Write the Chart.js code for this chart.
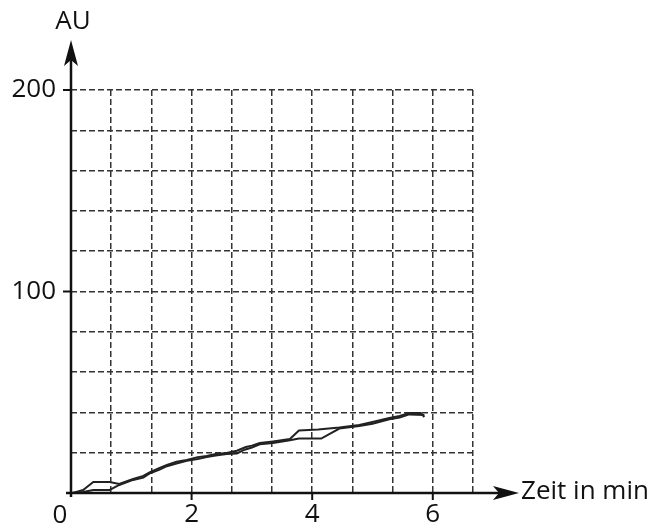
<!DOCTYPE html>
<html>
<head>
<meta charset="utf-8">
<script src="https://cdn.jsdelivr.net/npm/chart.js@4/dist/chart.umd.min.js"></script>
<style>
  html, body { margin: 0; padding: 0; background: #fff; }
  #wrap { width: 655px; height: 526px; position: relative; }
</style>
</head>
<body>
<div id="wrap"><canvas id="chart"></canvas></div>
<script>
// Data (two overlapping traces)
const timeA = [0.03, 0.2, 0.37, 0.64, 0.8, 1.03, 1.2, 1.31, 1.47, 1.59, 1.75, 1.92, 2.1, 2.25, 2.4, 2.58, 2.75, 2.9, 3.0, 3.13, 3.35, 3.63, 3.78, 4.1, 4.45, 4.78, 5.0, 5.28, 5.45, 5.61, 5.8, 5.86];
const auA   = [0, 1.5, 5.5, 5.5, 4.5, 7, 8.5, 10.4, 12.5, 13.9, 15.5, 16.4, 17.8, 18.4, 19.3, 19.9, 21, 22.8, 23.5, 24.8, 25.6, 26.8, 31, 31.5, 32.5, 33.7, 35.2, 37.2, 38.2, 39.7, 39.7, 37.7];
const timeB = [0, 0.2, 0.37, 0.64, 0.8, 1.03, 1.2, 1.31, 1.47, 1.59, 1.75, 1.92, 2.1, 2.25, 2.4, 2.58, 2.75, 2.88, 3.0, 3.13, 3.35, 3.63, 3.78, 4.15, 4.45, 4.78, 5.0, 5.28, 5.45, 5.61, 5.86];
const auB   = [0, 0.5, 1.5, 1.5, 4, 6.5, 7.6, 9.8, 11.6, 13.3, 14.6, 16, 16.9, 17.8, 18.6, 19.4, 19.6, 21.5, 22.6, 24.2, 24.8, 26.2, 27, 27, 32, 33.2, 34.4, 36.6, 37.4, 39, 38.7];

const xTickLabels = [2, 4, 6];
const yTickLabels = [100, 200];
const xGridStep = 2 / 3;
const xMax = 20 / 3;
const yMax = 200;
const yGridStep = 20;

const FONT = '"Open Sans", "Noto Sans", sans-serif';

function toPoints(xs, ys) {
    return xs.map((x, i) => ({ x: x, y: ys[i] }));
}

// axes with arrows, small tick marks and the texts around them
const axesPlugin = {
    id: 'axesPlugin',
    afterDraw(chart) {
        const ctx = chart.ctx;
        const x = chart.scales.x;
        const y = chart.scales.y;
        const x0 = x.getPixelForValue(0);
        const y0 = y.getPixelForValue(0);
        ctx.save();
        ctx.strokeStyle = '#111';
        ctx.fillStyle = '#111';
        ctx.lineWidth = 2.5;

        // y axis
        ctx.beginPath();
        ctx.moveTo(x0, y0 + 4);
        ctx.lineTo(x0, 58);
        ctx.stroke();
        ctx.beginPath();
        ctx.moveTo(x0, 40);
        ctx.lineTo(x0 - 7, 66);
        ctx.lineTo(x0, 60);
        ctx.lineTo(x0 + 7, 66);
        ctx.closePath();
        ctx.fill();

        // x axis
        ctx.beginPath();
        ctx.moveTo(x0 - 5, y0);
        ctx.lineTo(505, y0);
        ctx.stroke();
        ctx.beginPath();
        ctx.moveTo(519, y0);
        ctx.lineTo(493, y0 - 7);
        ctx.lineTo(499, y0);
        ctx.lineTo(493, y0 + 7);
        ctx.closePath();
        ctx.fill();

        // tick marks
        ctx.lineWidth = 2;
        yTickLabels.forEach(v => {
            const py = y.getPixelForValue(v);
            ctx.beginPath();
            ctx.moveTo(x0 - 8, py);
            ctx.lineTo(x0, py);
            ctx.stroke();
        });
        xTickLabels.forEach(v => {
            const px = x.getPixelForValue(v);
            ctx.beginPath();
            ctx.moveTo(px, y0);
            ctx.lineTo(px, y0 + 7);
            ctx.stroke();
        });

        // texts
        ctx.font = '26px ' + FONT;
        ctx.textBaseline = 'middle';
        ctx.textAlign = 'center';
        ctx.fillText('AU', x0 + 2, 22);
        ctx.fillText('0', x0 - 11, 516);
        ctx.textAlign = 'left';
        ctx.fillText('Zeit in min', 521, y0 - 1);
        ctx.restore();
    }
};

const chartArea = { left: 71, top: 90, right: 473, bottom: 493 };

new Chart(document.getElementById('chart'), {
    type: 'scatter',
    data: {
        datasets: [{
            data: toPoints(timeA, auA),
            showLine: true,
            borderColor: '#222',
            borderWidth: 2,
            pointRadius: 0,
            tension: 0
        }, {
            data: toPoints(timeB, auB),
            showLine: true,
            borderColor: '#222',
            borderWidth: 2,
            pointRadius: 0,
            tension: 0
        }]
    },
    options: {
        responsive: true,
        maintainAspectRatio: false,
        animation: false,
        layout: {
            padding: { left: 0, top: chartArea.top, right: 655 - chartArea.right, bottom: 0 }
        },
        plugins: {
            legend: { display: false },
            tooltip: { enabled: false }
        },
        scales: {
            x: {
                type: 'linear',
                min: 0,
                max: xMax,
                afterBuildTicks(scale) {
                    const ticks = [];
                    for (let k = 0; k * xGridStep <= xMax + 1e-6; k++) {
                        ticks.push({ value: k * xGridStep });
                    }
                    scale.ticks = ticks;
                },
                afterFit(scale) { scale.height = 526 - chartArea.bottom; },
                grid: {
                    color: '#333',
                    lineWidth: 1.5,
                    drawTicks: false
                },
                border: { display: false, dash: [6, 3] },
                ticks: {
                    autoSkip: false,
                    maxRotation: 0,
                    padding: 6,
                    color: '#111',
                    font: { size: 26, family: FONT },
                    callback(v) {
                        const hit = xTickLabels.find(t => Math.abs(t - v) < 1e-6);
                        return hit !== undefined ? String(hit) : '';
                    }
                }
            },
            y: {
                min: 0,
                max: yMax,
                afterFit(scale) { scale.width = chartArea.left; },
                grid: {
                    color: '#333',
                    lineWidth: 1.5,
                    drawTicks: false
                },
                border: { display: false, dash: [6, 3] },
                ticks: {
                    stepSize: yGridStep,
                    autoSkip: false,
                    padding: 15,
                    color: '#111',
                    font: { size: 26, family: FONT },
                    callback(v) {
                        return yTickLabels.includes(v) ? String(v) : '';
                    }
                }
            }
        }
    },
    plugins: [axesPlugin]
});
</script>
</body>
</html>
